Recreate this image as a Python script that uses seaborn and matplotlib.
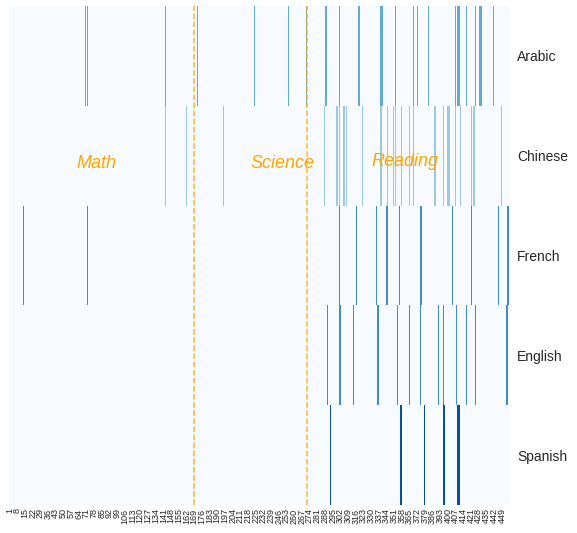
import numpy as np
import pandas as pd
import matplotlib
matplotlib.use("Agg")
import matplotlib.pyplot as plt
import seaborn as sns

# ---- data -------------------------------------------------------------
languages = ["Arabic", "Chinese", "French", "English", "Spanish"]
n_questions = 455

arabic_q = [70, 72, 143, 172, 224, 255, 271, 289, 301, 319, 339, 340, 352,
            369, 372, 382, 407, 409, 410, 417, 425, 429, 430, 441]
chinese_q = [143, 162, 196, 288, 299, 301, 305, 306, 308, 322, 339, 345, 350,
             352, 358, 365, 369, 388, 389, 396, 400, 401, 407, 411, 421, 423,
             424, 449]
french_q = [14, 72, 301, 317, 335, 344, 345, 356, 375, 376, 404, 421, 446,
            454, 455]
english_q = [290, 301, 302, 314, 336, 337, 354, 365, 375, 391, 396, 408, 417,
             425, 453, 454]
spanish_q = [293, 357, 358, 379, 396, 397, 409, 410]

intensity = [0.52, 0.38, 0.64, 0.64, 0.88]

section_bounds = [168.3, 270.9]
section_labels = ["Math", "Science", "Reading"]
section_label_x = [80.0, 248.7, 360.4]
section_label_y = [1.58, 1.58, 1.56]

# ---- build matrix -----------------------------------------------------
sns.set_style("white")
plt.rcParams["font.family"] = ["Liberation Sans", "DejaVu Sans"]

matrix = np.zeros((len(languages), n_questions))
for i, qs in enumerate([arabic_q, chinese_q, french_q, english_q, spanish_q]):
    matrix[i, np.array(qs) - 1] = intensity[i]
df = pd.DataFrame(matrix, index=languages, columns=range(1, n_questions + 1))

fig = plt.figure(figsize=(5.77, 5.33), dpi=100)
ax = fig.add_axes([9 / 577, 28 / 533, 500 / 577, 499 / 533])
sns.heatmap(df, cmap="Blues", vmin=0, vmax=1, cbar=False,
            xticklabels=7, yticklabels=True, ax=ax)
ax.yaxis.tick_right()
ax.tick_params(axis="y", length=0, pad=6, labelsize=10, labelrotation=0)
ax.tick_params(axis="x", length=0, pad=2.5, labelsize=6.5, labelrotation=90)
ax.set_xlabel("")
ax.set_ylabel("")

for b in section_bounds:
    ax.axvline(b, color="orange", ls="--", lw=1.1, alpha=0.8)
for t, x, y in zip(section_labels, section_label_x, section_label_y):
    ax.text(x, y, t, color="orange", fontsize=13, style="italic",
            ha="center", va="center")

fig.savefig("out.png", dpi=100)
